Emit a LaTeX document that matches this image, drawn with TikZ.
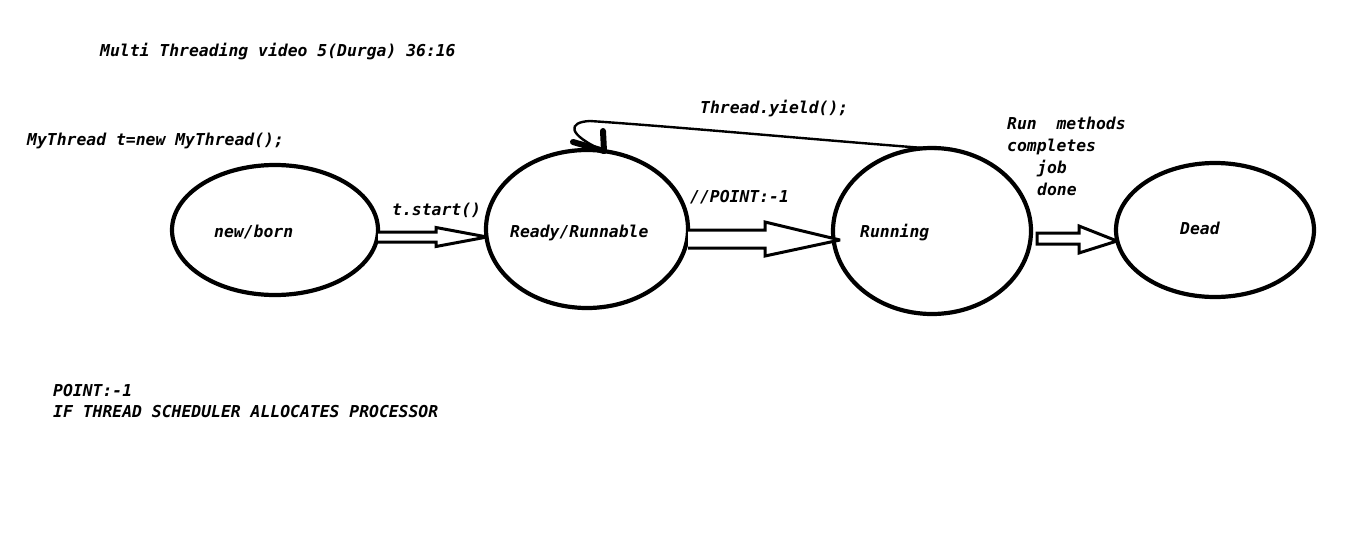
\documentclass[tikz,border=0pt]{standalone}
\usepackage{fontspec}
\setmonofont{DejaVu Sans Mono}
\newfontfamily\codefont{DejaVu Sans Mono}[BoldItalicFont={* Bold Oblique}]
\usetikzlibrary{shapes.geometric}
\begin{document}
\begin{tikzpicture}[x=1pt,y=-1pt,
  state/.style={draw,ellipse,line width=4.2pt,inner sep=0pt},
  txt/.style={anchor=base west,inner sep=0pt,font=\codefont\bfseries\itshape\fontsize{16.4}{19}\selectfont},
  blockarrow/.style={draw,line width=3pt,line join=miter,miter limit=2,fill=white}]
\useasboundingbox[fill=white] (0,0) rectangle (1360,549);

% states
\node[state,minimum width=206pt,minimum height=130pt] (nb) at (275,230) {};
\node[state,minimum width=202pt,minimum height=158pt] (rr) at (587,229) {};
\node[state,minimum width=198pt,minimum height=166pt] (run) at (932,231) {};
\node[state,minimum width=198pt,minimum height=134pt] (dead) at (1215,230) {};

% labels inside states
\node[txt] (lnb) at (214,237) {new/born};
\node[txt] (lrr) at (510,237) {Ready/Runnable};
\node[txt] (lrun) at (860,237) {Running};
\node[txt] (ldead) at (1180,234) {Dead};

% block arrows
\draw[blockarrow] (378,232) -- (436,232) -- (436,227.5) -- (487,237) -- (436,246.5) -- (436,242) -- (378,242);
\draw[blockarrow] (688,230) -- (765,230) -- (765,222) -- (840,240) -- (765,256) -- (765,248) -- (688,248);
\draw[blockarrow] (1037,233) -- (1079,233) -- (1079,226) -- (1117,241) -- (1079,253) -- (1079,244) -- (1037,244) -- cycle;

% yield curve
\coordinate (ys) at (937,149);
\coordinate (yt) at (604,151);
\draw[line width=2.4pt] (ys) .. controls (830,141) and (680,127) .. (590,121)
  .. controls (568,122) and (566,134) .. (yt);
\draw[line width=6pt,line cap=round] (603,131) -- (yt);
\draw[line width=6pt,line cap=round] (573,142) -- (yt);

% texts
\node[txt] (title) at (100,56) {Multi Threading video 5(Durga) 36:16};
\node[txt] (decl) at (27,145) {MyThread t=new MyThread();};
\node[txt] (yield) at (700,113) {Thread.yield();};
\node[txt] (start) at (392,215) {t.start()};
\node[txt] (pt) at (690,202) {//POINT:-1};
\node[txt] (m1) at (1007,129) {Run\ \ methods};
\node[txt] (m2) at (1007,151) {completes};
\node[txt] (m3) at (1037,173) {job};
\node[txt] (m4) at (1037,195) {done};
\node[txt] (n1) at (53,396) {POINT:-1};
\node[txt] (n2) at (53,417) {IF THREAD SCHEDULER ALLOCATES PROCESSOR};
\end{tikzpicture}
\end{document}
